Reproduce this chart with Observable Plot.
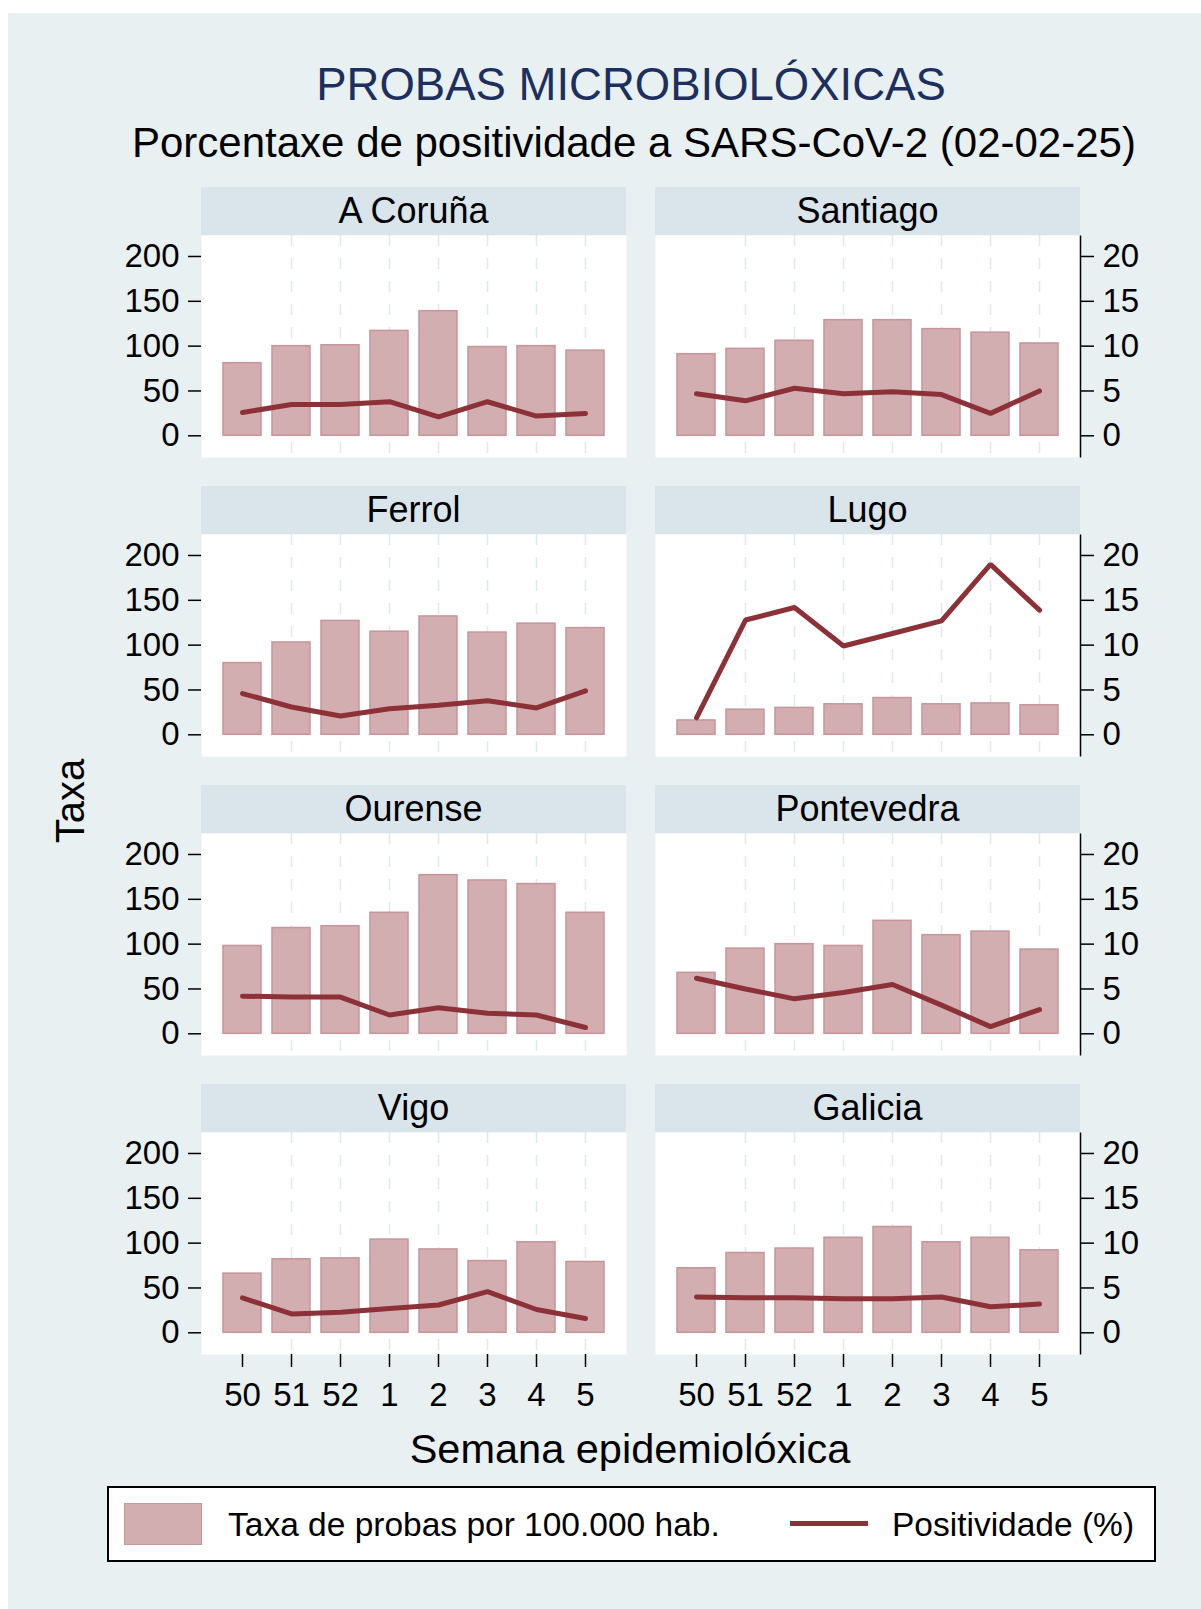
<!DOCTYPE html>
<html>
<head>
<meta charset="utf-8">
<script src="https://cdn.jsdelivr.net/npm/d3@7"></script>
<script src="https://cdn.jsdelivr.net/npm/@observablehq/plot@0.6"></script>
<style>
  html, body { margin: 0; padding: 0; background: #ffffff; }
  #page { position: relative; width: 1201px; height: 1609px; overflow: hidden;
          font-family: "Liberation Sans", Arial, sans-serif; color: #000; }
  #bg { position: absolute; left: 8px; top: 13px; right: 0; bottom: 0; background: #e8f0f2; }
  .txt { position: absolute; white-space: nowrap; }
  .strip { position: absolute; background: #d9e5eb; text-align: center; font-size: 36px; line-height: 48px; height: 48px; }
  .panel { position: absolute; }
</style>
</head>
<body>
<div id="page">
  <div id="bg"></div>
</div>
<script>
// ---------------- data ----------------
const weeks = ["50", "51", "52", "1", "2", "3", "4", "5"];
const regions = ["A Coruña", "Santiago", "Ferrol", "Lugo", "Ourense", "Pontevedra", "Vigo", "Galicia"];

// Taxa de probas por 100.000 hab.
const taxaACoruna    = [81, 100, 101, 117, 139, 99, 100, 95];
const taxaSantiago   = [91, 97, 106, 129, 129, 119, 115, 103];
const taxaFerrol     = [80, 103, 127, 115, 132, 114, 124, 119];
const taxaLugo       = [16, 28, 30, 34, 41, 34, 35, 33];
const taxaOurense    = [98, 118, 120, 135, 177, 171, 167, 135];
const taxaPontevedra = [68, 95, 100, 98, 126, 110, 114, 94];
const taxaVigo       = [66, 82, 83, 104, 93, 80, 101, 79];
const taxaGalicia    = [72, 89, 94, 106, 118, 101, 106, 92];

// Positividade (%)
const posACoruna    = [2.6, 3.5, 3.5, 3.8, 2.1, 3.8, 2.2, 2.5];
const posSantiago   = [4.7, 3.9, 5.3, 4.7, 4.9, 4.6, 2.5, 5.0];
const posFerrol     = [4.6, 3.1, 2.1, 2.9, 3.3, 3.8, 3.0, 4.9];
const posLugo       = [1.9, 12.8, 14.2, 9.9, 11.3, 12.7, 19.0, 13.9];
const posOurense    = [4.2, 4.1, 4.1, 2.1, 2.9, 2.3, 2.1, 0.7];
const posPontevedra = [6.2, 5.0, 3.9, 4.6, 5.5, 3.2, 0.8, 2.7];
const posVigo       = [3.9, 2.1, 2.3, 2.7, 3.1, 4.6, 2.6, 1.6];
const posGalicia    = [4.0, 3.9, 3.9, 3.8, 3.8, 4.0, 2.9, 3.2];

const taxaTicks = [0, 50, 100, 150, 200];
const posTicks = [0, 5, 10, 15, 20];

const taxaSeries = [taxaACoruna, taxaSantiago, taxaFerrol, taxaLugo, taxaOurense, taxaPontevedra, taxaVigo, taxaGalicia];
const posSeries = [posACoruna, posSantiago, posFerrol, posLugo, posOurense, posPontevedra, posVigo, posGalicia];

const TITLE = "PROBAS MICROBIOLÓXICAS";
const SUBTITLE = "Porcentaxe de positividade a SARS-CoV-2 (02-02-25)";
const XTITLE = "Semana epidemiolóxica";
const YTITLE = "Taxa";
const LEG_BAR = "Taxa de probas por 100.000 hab.";
const LEG_LINE = "Positividade (%)";

// ---------------- style ----------------
const FONT = '"Liberation Sans", Arial, sans-serif';
const BAR = "#d2aeb1";
const BAR_STROKE = "#c7959a";
const LINE = "#8d3139";
const GRID = "#e0e9ed";
const PW = 425, PH = 222;           // plot area
const COL_X = [201, 655];           // plot area left per column
const ROW_Y0 = 187, ROW_STEP = 299; // strip top of first row
const STRIP_H = 48;
const Y_DOMAIN = [-24.2, 223.4];    // shared scale: taxa, and positividade ×10

const page = document.getElementById("page");
function addText(txt, css) {
  const d = document.createElement("div");
  d.className = "txt";
  d.textContent = txt;
  Object.assign(d.style, css);
  page.appendChild(d);
  return d;
}

// titles
addText(TITLE, {left: "231px", width: "800px", textAlign: "center", top: "62px", fontSize: "45.5px", lineHeight: "45px", color: "#1d2f5f"});
addText(SUBTITLE, {left: "132px", width: "1000px", textAlign: "center", top: "122px", fontSize: "42px", lineHeight: "42px"});

// panels
regions.forEach((name, k) => {
  const col = k % 2, row = Math.floor(k / 2);
  const bottom = row === 3;
  const data = weeks.map((w, i) => ({week: w, taxa: taxaSeries[k][i], pos: posSeries[k][i]}));
  const ML = col === 0 ? 100 : 10, MR = col === 0 ? 10 : 100, MB = bottom ? 60 : 0;

  const strip = document.createElement("div");
  strip.className = "strip";
  strip.textContent = name;
  Object.assign(strip.style, {left: COL_X[col] + "px", top: (ROW_Y0 + ROW_STEP * row) + "px", width: PW + "px"});
  page.appendChild(strip);

  const axisMarks = col === 0
    ? [Plot.axisY({anchor: "left", ticks: taxaTicks, tickSize: 13, tickPadding: 9, label: null, strokeWidth: 1.5})]
    : [Plot.axisY({anchor: "right", ticks: posTicks.map(v => v * 10), tickFormat: d => String(d / 10), tickSize: 13, tickPadding: 9, label: null, strokeWidth: 1.5}),
       Plot.frame({stroke: "#000", strokeWidth: 1.5, strokeDasharray: `0,${PW},${PH},${PW + PH + 10}`})];

  const chart = Plot.plot({
    width: ML + PW + MR,
    height: PH + MB,
    marginLeft: ML, marginRight: MR, marginTop: 0, marginBottom: MB,
    style: {background: "transparent", fontFamily: FONT, fontSize: "33px", color: "#000", overflow: "visible"},
    x: {type: "band", domain: weeks, paddingInner: 0.22, paddingOuter: 0.434, axis: null},
    y: {domain: Y_DOMAIN, axis: null},
    marks: [
      Plot.frame({fill: "white", stroke: "none"}),
      Plot.ruleX(weeks.slice(1), {stroke: GRID, strokeWidth: 1.5, strokeDasharray: "11,12"}),
      Plot.barY(data, {x: "week", y: "taxa", fill: BAR, stroke: BAR_STROKE, strokeWidth: 1.5}),
      Plot.lineY(data, {x: "week", y: d => d.pos * 10, stroke: LINE, strokeWidth: 5, strokeLinejoin: "miter"}),
      ...axisMarks,
      bottom ? Plot.axisX({tickSize: 13, tickPadding: 15, label: null, strokeWidth: 1.5}) : null
    ]
  });
  chart.classList.add("panel");
  chart.style.position = "absolute";
  chart.style.left = (COL_X[col] - ML) + "px";
  chart.style.top = (ROW_Y0 + ROW_STEP * row + STRIP_H) + "px";
  page.appendChild(chart);
});

// axis titles
addText(XTITLE, {left: "330px", width: "600px", textAlign: "center", top: "1428px", fontSize: "41.5px", lineHeight: "41px"});
addText(YTITLE, {left: "70px", top: "801px", fontSize: "40px", lineHeight: "40px", transform: "translate(-50%,-50%) rotate(-90deg)"});

// legend
const leg = document.createElement("div");
Object.assign(leg.style, {position: "absolute", left: "107px", top: "1486px", width: "1049px", height: "76px",
  boxSizing: "border-box", border: "2px solid #000", background: "#fff"});
page.appendChild(leg);
const sw = document.createElement("div");
Object.assign(sw.style, {position: "absolute", left: "15px", top: "15px", width: "78px", height: "42px", boxSizing: "border-box",
  background: BAR, border: "1.5px solid " + BAR_STROKE});
leg.appendChild(sw);
const ln = document.createElement("div");
Object.assign(ln.style, {position: "absolute", left: "681px", top: "33px", width: "78px", height: "5px", background: LINE});
leg.appendChild(ln);
function legText(t, left) {
  const d = document.createElement("div");
  d.textContent = t;
  Object.assign(d.style, {position: "absolute", left: left + "px", top: "20px", fontSize: "33.5px", lineHeight: "33px", whiteSpace: "nowrap"});
  leg.appendChild(d);
}
legText(LEG_BAR, 119);
legText(LEG_LINE, 783);
</script>
</body>
</html>
